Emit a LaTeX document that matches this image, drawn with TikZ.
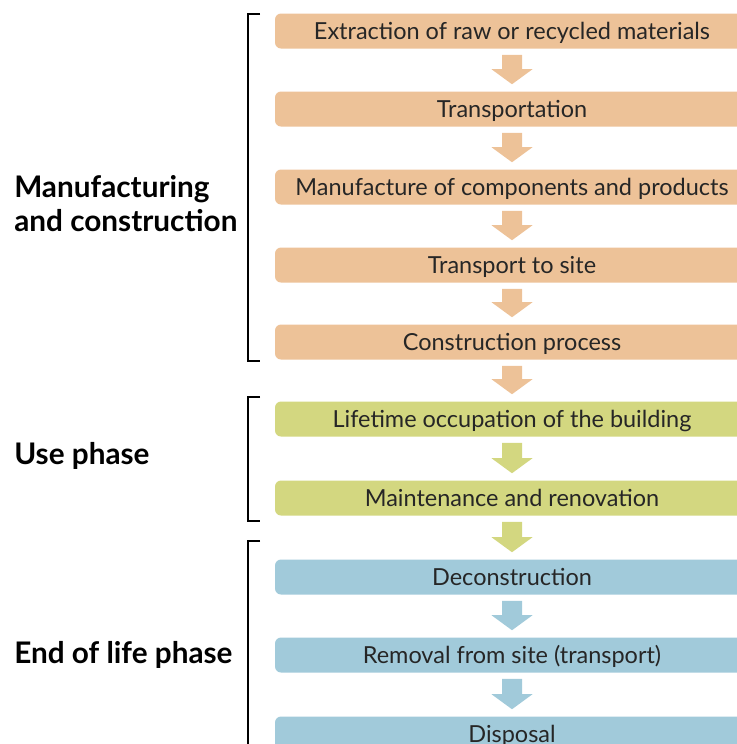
\documentclass[tikz,border=0pt]{standalone}
\usepackage{fontspec}
\setmainfont{Lato}
\usetikzlibrary{calc}
\definecolor{orangeC}{RGB}{237,194,152}
\definecolor{greenC}{RGB}{211,215,128}
\definecolor{blueC}{RGB}{161,202,218}
\tikzset{
  stagebox/.style={rounded corners=4.5pt, minimum width=474*0.75pt, minimum height=35*0.75pt, inner sep=0pt, text height=15pt, text depth=3pt, font=\fontsize{17.6}{20}\selectfont, text=black!85},
  phaselabel/.style={anchor=west, align=left, font=\bfseries\fontsize{22.3}{25.5}\selectfont, inner sep=0pt},
  brace/.style={line width=1pt, black}
}
\newcommand\fatarrow[3]{%
  \fill[#3] ($(#1.south)+(-10,6)$) -- ($(#1.south)+(10,6)$) -- ($(#2.north)+(10,-22)$) -- ($(#2.north)+(20.5,-22)$) -- ($(#2.north)+(0,-7)$) -- ($(#2.north)+(-20.5,-22)$) -- ($(#2.north)+(-10,-22)$) -- cycle;}
\begin{document}
\begin{tikzpicture}[x=0.75pt,y=-0.75pt]
\useasboundingbox (0,0) rectangle (737,744);
\clip (0,0) rectangle (737,744);
\node[stagebox, fill=orangeC] (s1) at (512,31) {Extraction of raw or recycled materials};
\node[stagebox, fill=orangeC] (s2) at (512,109) {Transportation};
\node[stagebox, fill=orangeC] (s3) at (512,187) {Manufacture of components and products};
\node[stagebox, fill=orangeC] (s4) at (512,265) {Transport to site};
\node[stagebox, fill=orangeC] (s5) at (512,342) {Construction process};
\node[stagebox, fill=greenC] (s6) at (512,419) {Lifetime occupation of the building};
\node[stagebox, fill=greenC] (s7) at (512,498) {Maintenance and renovation};
\node[stagebox, fill=blueC] (s8) at (512,577) {Deconstruction};
\node[stagebox, fill=blueC] (s9) at (512,655) {Removal from site (transport)};
\node[stagebox, fill=blueC] (s10) at (512,734) {Disposal};
\fatarrow{s1}{s2}{orangeC}
\fatarrow{s2}{s3}{orangeC}
\fatarrow{s3}{s4}{orangeC}
\fatarrow{s4}{s5}{orangeC}
\fatarrow{s5}{s6}{orangeC}
\fatarrow{s6}{s7}{greenC}
\fatarrow{s7}{s8}{greenC}
\fatarrow{s8}{s9}{blueC}
\fatarrow{s9}{s10}{blueC}
\draw[brace] (260,14) -- (248,14) -- (248,361) -- (260,361);
\draw[brace] (260,397) -- (248,397) -- (248,521) -- (260,521);
\draw[brace] (260,541) -- (248,541) -- (248,760);
\node[phaselabel] (l1) at (14,204) {Manufacturing\\and construction};
\node[phaselabel] (l2) at (14,456) {Use phase};
\node[phaselabel] (l3) at (14,655) {End of life phase};
\end{tikzpicture}
\end{document}
